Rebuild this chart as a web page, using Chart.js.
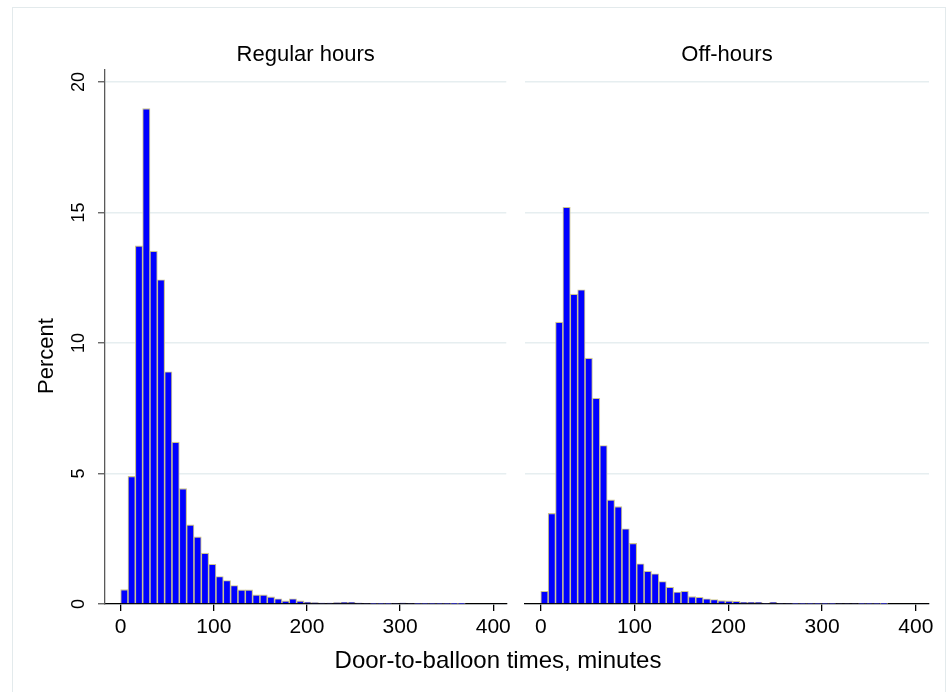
<!DOCTYPE html>
<html>
<head>
<meta charset="utf-8">
<script src="https://cdn.jsdelivr.net/npm/chart.js@4.4.1/dist/chart.umd.min.js"></script>
<style>
  html, body { margin: 0; padding: 0; background: #ffffff; }
  #wrap { position: relative; width: 950px; height: 692px; overflow: hidden; background: #fff;
          font-family: "Liberation Sans", Arial, Helvetica, sans-serif; }
  #frame { position: absolute; left: 12px; top: 7px; width: 934px; height: 720px; border: 1px solid #e3eaec; box-sizing: border-box; }
  canvas { position: absolute; top: 0; }
  #c1 { left: 0; }
  #c2 { left: 515px; }
  #xtitle { position: absolute; left: 298px; width: 400px; top: 648px; text-align: center;
            font-size: 24px; line-height: 24px; color: #000; white-space: nowrap; }
</style>
</head>
<body>
<div id="wrap">
  <div id="frame"></div>
  <canvas id="c1" width="515" height="692"></canvas>
  <canvas id="c2" width="435" height="692"></canvas>
  <div id="xtitle"></div>
</div>
<script>
// ---- data ----
const panelTitles = ["Regular hours", "Off-hours"];
const xAxisTitle = "Door-to-balloon times, minutes";
const yAxisTitle = "Percent";
const xTicks = [0, 100, 200, 300, 400];
const yTicks = [0, 5, 10, 15, 20];

// histogram bin centres (minutes), bin width ~7.87
const binCenters = [3.94, 11.81, 19.68, 27.55, 35.42, 43.29, 51.16, 59.03, 66.9, 74.77,
  82.64, 90.51, 98.38, 106.25, 114.12, 121.99, 129.86, 137.73, 145.6, 153.47,
  161.34, 169.21, 177.08, 184.95, 192.82, 200.69, 208.56, 216.43, 224.3, 232.17,
  240.04, 247.91, 255.78, 263.65, 271.52, 279.39, 287.26, 295.13, 303.0, 310.87,
  318.74, 326.61, 334.48, 342.35, 350.22, 358.09, 365.96];

const regularPct = [0.55, 4.89, 13.72, 18.98, 13.52, 12.42, 8.9, 6.2, 4.42, 3.03,
  2.57, 1.95, 1.52, 1.05, 0.9, 0.71, 0.54, 0.54, 0.35, 0.35,
  0.27, 0.2, 0.12, 0.2, 0.12, 0.07, 0.05, 0.04, 0.04, 0.05,
  0.06, 0.06, 0.04, 0.03, 0.02, 0.02, 0.02, 0.03, 0.04, 0.03,
  0.02, 0.02, 0.02, 0.02, 0.02, 0.01, 0.01];

const offHoursPct = [0.49, 3.47, 10.8, 15.2, 11.87, 12.04, 9.42, 7.88, 6.07, 3.99,
  3.73, 2.88, 2.32, 1.54, 1.26, 1.16, 0.86, 0.64, 0.46, 0.49,
  0.28, 0.26, 0.2, 0.17, 0.13, 0.12, 0.1, 0.06, 0.06, 0.06,
  0.03, 0.06, 0.03, 0.03, 0.02, 0.02, 0.02, 0.02, 0.02, 0.02,
  0.03, 0.03, 0.03, 0.02, 0.02, 0.02, 0.01];

// ---- styling ----
const FONT = '"Liberation Sans", Arial, Helvetica, sans-serif';
const BAR_FILL = '#0000ff';
const BAR_EDGE = '#cbc38f';
const GRID = '#e6eef0';
const X_MIN = -16.8, X_MAX = 414, Y_MAX = 20.46;

document.getElementById('xtitle').textContent = xAxisTitle;

const textPlugin = {
  id: 'panelText',
  afterDraw(chart, args, opts) {
    const { ctx, chartArea, scales } = chart;
    ctx.save();
    ctx.fillStyle = '#000';
    ctx.font = '22px ' + FONT;
    ctx.textAlign = 'center';
    ctx.textBaseline = 'alphabetic';
    ctx.fillText(opts.title, (chartArea.left + chartArea.right) / 2, 61);
    if (opts.yLabels) {
      ctx.font = '18px ' + FONT;
      yTicks.forEach(v => {
        const y = scales.y.getPixelForValue(v);
        ctx.save();
        ctx.translate(79.5, y);
        ctx.rotate(-Math.PI / 2);
        ctx.textAlign = 'center';
        ctx.textBaseline = 'middle';
        ctx.fillText(String(v), 0, 0);
        ctx.restore();
      });
      ctx.save();
      ctx.translate(46.5, 356);
      ctx.rotate(-Math.PI / 2);
      ctx.font = '22px ' + FONT;
      ctx.textAlign = 'center';
      ctx.textBaseline = 'middle';
      ctx.fillText(yAxisTitle, 0, 0);
      ctx.restore();
    }
    ctx.restore();
  }
};

function makePanel(canvasId, values, title, isLeft) {
  const padRight = isLeft ? 7 : 21;
  return new Chart(document.getElementById(canvasId), {
    type: 'bar',
    data: {
      datasets: [{
        data: binCenters.map((x, i) => ({ x: x, y: values[i] })),
        backgroundColor: BAR_FILL,
        borderColor: BAR_EDGE,
        borderWidth: 1.1,
        borderSkipped: 'start',
        barPercentage: 1.0,
        categoryPercentage: 1.0,
        grouped: false
      }]
    },
    plugins: [textPlugin],
    options: {
      responsive: false,
      animation: false,
      devicePixelRatio: 1,
      layout: { padding: { left: 0, top: 70, right: padRight, bottom: 28 } },
      plugins: {
        legend: { display: false },
        tooltip: { enabled: false },
        title: { display: false },
        panelText: { title: title, yLabels: isLeft }
      },
      scales: {
        x: {
          type: 'linear',
          min: X_MIN, max: X_MAX,
          offset: false,
          afterBuildTicks: s => { s.ticks = xTicks.map(v => ({ value: v })); },
          afterFit: s => { s.height = 60; },
          border: { display: true, color: '#000', width: 1.3 },
          grid: { display: true, offset: false, drawOnChartArea: false, drawTicks: true, tickLength: 7,
                  tickColor: '#000', tickWidth: 1.3, lineWidth: 1.3, color: '#000' },
          ticks: { font: { family: FONT, size: 21 }, color: '#000', padding: 4,
                   maxRotation: 0, minRotation: 0, autoSkip: false }
        },
        y: {
          type: 'linear',
          min: 0, max: Y_MAX,
          afterBuildTicks: s => { s.ticks = yTicks.map(v => ({ value: v })); },
          afterFit: s => { s.width = isLeft ? 105 : 10; },
          border: { display: isLeft, color: '#5a5a5a', width: 1.3 },
          grid: { display: true, offset: false, drawOnChartArea: true, drawTicks: isLeft, tickLength: 7,
                  color: GRID, lineWidth: 1.5, tickColor: '#5a5a5a', tickWidth: 1.3 },
          ticks: { display: false }
        }
      }
    }
  });
}

makePanel('c1', regularPct, panelTitles[0], true);
makePanel('c2', offHoursPct, panelTitles[1], false);
</script>
</body>
</html>
